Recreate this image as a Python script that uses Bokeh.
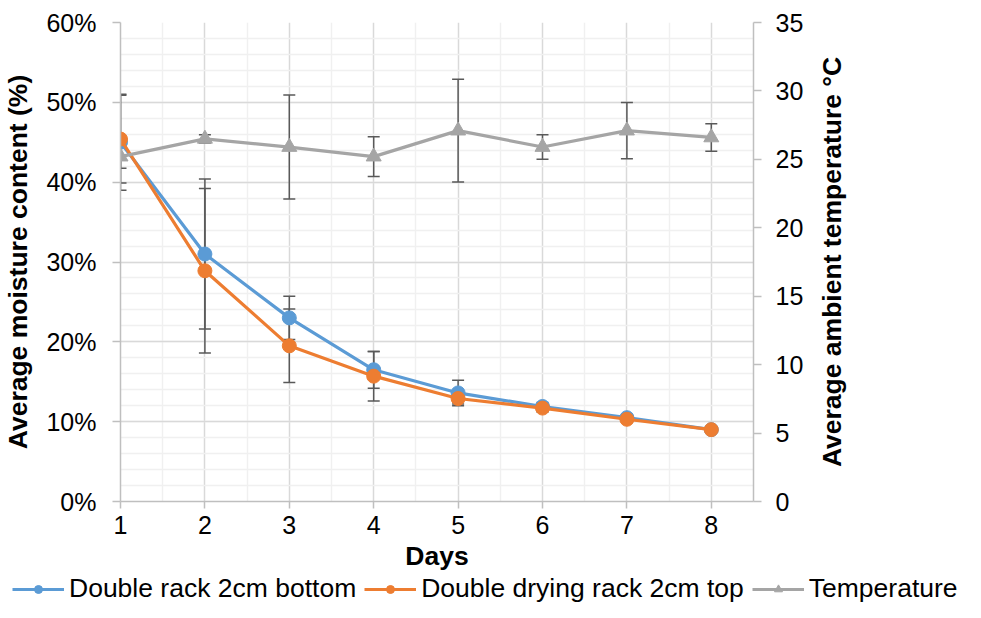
import math
from bokeh.plotting import figure
from bokeh.layouts import column, row
from bokeh.core.properties import value
from bokeh.models import (Range1d, LinearAxis, FixedTicker, NumeralTickFormatter,
                          Legend, LegendItem)
from bokeh.embed import file_html
from bokeh.resources import INLINE

# ---------------- data ----------------
days = [1, 2, 3, 4, 5, 6, 7, 8]
bottom_rack = [0.450, 0.310, 0.230, 0.165, 0.136, 0.119, 0.105, 0.090]
bottom_err = [0.060, 0.094, 0.027, 0.023, 0.016, 0.005, 0.004, 0.003]
top_rack = [0.454, 0.289, 0.195, 0.157, 0.129, 0.117, 0.103, 0.090]
top_err = [0.055, 0.103, 0.046, 0.031, 0.007, 0.005, 0.004, 0.003]
temperature = [25.2, 26.5, 25.9, 25.2, 27.1, 25.9, 27.1, 26.6]
temp_err = [0.85, 0.3, 3.8, 1.45, 3.75, 0.9, 2.05, 1.0]

x_ticks = [1, 2, 3, 4, 5, 6, 7, 8]
y_ticks = [0, 0.1, 0.2, 0.3, 0.4, 0.5, 0.6]
t_ticks = [0, 5, 10, 15, 20, 25, 30, 35]

names = ["Double rack 2cm bottom", "Double drying rack 2cm top", "Temperature"]
colors = ["#5B9BD5", "#ED7D31", "#A5A5A5"]
right_title = "Average ambient temperature °C"

FONT = "Liberation Sans"
FS = "25px"
TFS = "26.5px"
ERR = "#595959"

WP = 808      # main plot width
WR = 157      # strip holding the right axis title
H1 = 574
H2 = 28

p = figure(width=WP, height=H1, output_backend="svg", toolbar_location=None,
           x_range=Range1d(1, 8.5), y_range=Range1d(0, 0.6),
           min_border_left=119, min_border_right=55, min_border_top=22,
           min_border_bottom=73)
p.frame_align = False
p.outline_line_color = None
p.background_fill_color = "white"
p.extra_y_ranges = {"temp": Range1d(0, 35)}

# grids
p.xgrid.ticker = FixedTicker(ticks=x_ticks, minor_ticks=[1.5, 2.5, 3.5, 4.5, 5.5, 6.5, 7.5, 8.5])
p.ygrid.ticker = FixedTicker(ticks=y_ticks,
                             minor_ticks=[i / 100 for i in range(0, 61, 2)])
for g in (p.xgrid, p.ygrid):
    g.grid_line_color = "#D9D9D9"
    g.grid_line_width = 1.5
    g.minor_grid_line_color = "#F0F0F0"
    g.minor_grid_line_width = 1.5

# axes
xa = p.xaxis[0]
xa.ticker = FixedTicker(ticks=x_ticks)
xa.axis_label = "Days"
ya = p.yaxis[0]
ya.ticker = FixedTicker(ticks=y_ticks)
ya.formatter = NumeralTickFormatter(format="0%")
ya.axis_label = "Average moisture content (%)"
ra = LinearAxis(y_range_name="temp", ticker=FixedTicker(ticks=t_ticks))
p.add_layout(ra, "right")

for ax in (xa, ya, ra):
    ax.axis_line_color = "#BFBFBF"
    ax.axis_line_width = 1.5
    ax.major_tick_line_color = "#BFBFBF"
    ax.major_tick_line_width = 1.5
    ax.major_tick_in = 0
    ax.major_tick_out = 8
    ax.minor_tick_in = 0
    ax.minor_tick_out = 0
    ax.major_label_text_font = FONT
    ax.major_label_text_font_size = FS
    ax.major_label_text_color = "#000000"
    ax.axis_label_text_font = FONT
    ax.axis_label_text_font_size = TFS
    ax.axis_label_text_font_style = "bold"
    ax.axis_label_text_color = "#000000"
xa.major_tick_out = 7
xa.major_label_standoff = 7
xa.axis_label_standoff = 4
ya.major_label_standoff = 16
ya.axis_label_standoff = 10
ra.major_label_standoff = 14

# error bars (drawn first)
def errbars(vals, errs, range_name="default"):
    lo = [v - e for v, e in zip(vals, errs)]
    hi = [v + e for v, e in zip(vals, errs)]
    p.segment(x0=days, y0=lo, x1=days, y1=hi, line_color=ERR, line_width=1.5,
              y_range_name=range_name)
    p.scatter(x=days + days, y=lo + hi, marker="dash", size=12, line_color=ERR,
              line_width=1.5, y_range_name=range_name)

errbars(bottom_rack, bottom_err)
errbars(top_rack, top_err)
errbars(temperature, temp_err, "temp")

p.line(days, bottom_rack, line_color=colors[0], line_width=3.2)
p.scatter(days, bottom_rack, marker="circle", size=14, fill_color=colors[0],
          line_color=colors[0])
p.line(days, top_rack, line_color=colors[1], line_width=3.2)
p.scatter(days, top_rack, marker="circle", size=14, fill_color=colors[1],
          line_color=colors[1])
p.line(days, temperature, line_color=colors[2], line_width=3.2, y_range_name="temp")
p.scatter(days, temperature, marker="triangle", size=15, fill_color=colors[2],
          line_color=colors[2], y_range_name="temp")

# ---------------- right axis title strip ----------------
r = figure(width=WR, height=H1, output_backend="svg", toolbar_location=None,
           x_range=Range1d(0, WR), y_range=Range1d(0, H1),
           x_axis_location=None, y_axis_location=None, min_border=0)
r.frame_align = False
r.outline_line_color = None
r.grid.visible = False
r.text(x=[23], y=[H1 - 261.5], text=[right_title], angle=math.pi / 2,
       text_align="center", text_baseline="middle",
       text_font=value(FONT), text_font_size=value(TFS),
       text_font_style=value("bold"), text_color="#000000")

# ---------------- legend strip ----------------
q = figure(width=WP + WR, height=H2, output_backend="svg", toolbar_location=None,
           x_range=Range1d(0, 1), y_range=Range1d(0, 1),
           x_axis_location=None, y_axis_location=None, min_border=0)
q.frame_align = False
q.outline_line_color = None
q.grid.visible = False
markers = ["circle", "circle", "triangle"]
items = []
for name, c, m in zip(names, colors, markers):
    lr = q.line([-5, -4], [-5, -5], line_color=c, line_width=3)
    sr = q.scatter([-5], [-5], marker=m, size=11, fill_color=c, line_color=c)
    items.append(LegendItem(label=name, renderers=[lr, sr]))
legend = Legend(items=items, orientation="horizontal", location=(12, -2),
                label_text_font=FONT, label_text_font_size=TFS,
                label_text_color="#000000", glyph_width=52, glyph_height=20,
                label_standoff=5, spacing=8, padding=0, margin=0,
                border_line_color=None, background_fill_alpha=0)
q.add_layout(legend, "center")

layout = column(row(p, r, spacing=0), q, spacing=0)
open("out.html", "w").write(file_html(layout, INLINE))
